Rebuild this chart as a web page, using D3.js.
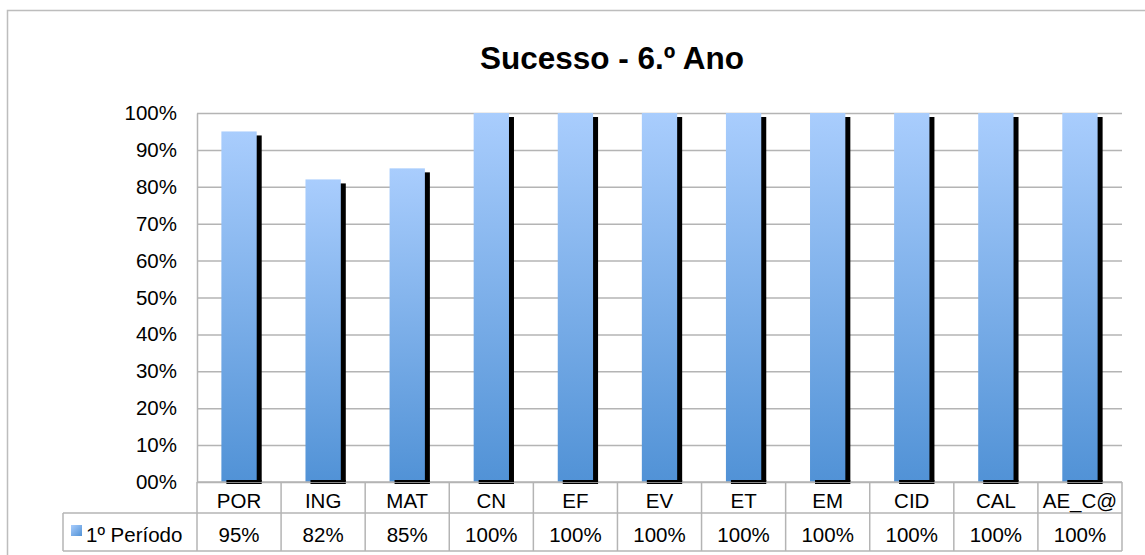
<!DOCTYPE html>
<html>
<head>
<meta charset="utf-8">
<script src="https://cdn.jsdelivr.net/npm/d3@7"></script>
<style>
  body { margin: 0; background: #fff; }
  svg { display: block; font-family: "Liberation Sans", Arial, sans-serif; }
</style>
</head>
<body>
<div id="chart"></div>
<script>
// chart data
const categories = ["POR", "ING", "MAT", "CN", "EF", "EV", "ET", "EM", "CID", "CAL", "AE_C@"];
const values = [95, 82, 85, 100, 100, 100, 100, 100, 100, 100, 100];
const valueLabels = ["95%", "82%", "85%", "100%", "100%", "100%", "100%", "100%", "100%", "100%", "100%"];
const yTicks = [0, 10, 20, 30, 40, 50, 60, 70, 80, 90, 100];
const yTickLabels = ["00%", "10%", "20%", "30%", "40%", "50%", "60%", "70%", "80%", "90%", "100%"];
const seriesName = "1º Período";
const chartTitle = "Sucesso - 6.º Ano";

const width = 1145, height = 555;
const plot = { left: 197, right: 1122, top: 113, bottom: 482 };
const rowH1 = 31, rowH2 = 38, legendLeft = 63;
const gridColor = "#b4b4b4";

const svg = d3.select("#chart").append("svg")
  .attr("width", width)
  .attr("height", height);

// gradient for the bars
const defs = svg.append("defs");
const grad = defs.append("linearGradient")
  .attr("id", "barGrad")
  .attr("x1", 0).attr("y1", 0).attr("x2", 0).attr("y2", 1);
grad.append("stop").attr("offset", "0%").attr("stop-color", "#a9cdfd");
grad.append("stop").attr("offset", "100%").attr("stop-color", "#5192d6");

const keyGrad = defs.append("linearGradient")
  .attr("id", "keyGrad")
  .attr("x1", 0).attr("y1", 0).attr("x2", 1).attr("y2", 1);
keyGrad.append("stop").attr("offset", "0%").attr("stop-color", "#a9cdfd");
keyGrad.append("stop").attr("offset", "100%").attr("stop-color", "#5192d6");

// outer chart border
svg.append("rect")
  .attr("x", 7.5).attr("y", 10.5)
  .attr("width", 1160).attr("height", 560)
  .attr("fill", "none")
  .attr("stroke", "#bdbdbd")
  .attr("stroke-width", 1.5);

// title
svg.append("text")
  .attr("x", 612).attr("y", 69)
  .attr("text-anchor", "middle")
  .attr("font-size", 31.5)
  .attr("font-weight", "bold")
  .text(chartTitle);

const x = d3.scaleBand()
  .domain(categories)
  .range([plot.left, plot.right]);

const y = d3.scaleLinear()
  .domain([0, 100])
  .range([plot.bottom, plot.top]);

// grid lines
svg.append("g")
  .attr("transform", `translate(${plot.left},0)`)
  .call(d3.axisLeft(y).tickValues(yTicks).tickSize(-(plot.right - plot.left)).tickFormat(""))
  .call(g => g.select(".domain").remove())
  .call(g => g.selectAll("line").attr("stroke", gridColor).attr("stroke-width", 1.5));

// y axis labels
svg.append("g")
  .attr("transform", `translate(${plot.left},0)`)
  .call(d3.axisLeft(y).tickValues(yTicks).tickSize(0).tickPadding(20)
    .tickFormat((d, i) => yTickLabels[i]))
  .call(g => g.select(".domain").attr("stroke", gridColor).attr("stroke-width", 1.5))
  .call(g => g.selectAll("text")
    .attr("font-size", 20.5)
    .attr("fill", "#000")
    .attr("font-family", "Liberation Sans, Arial, sans-serif"));

const barW = x.bandwidth() * 0.42;

// shadows
svg.append("g").selectAll("rect")
  .data(values)
  .join("rect")
  .attr("x", (d, i) => x(categories[i]) + (x.bandwidth() - barW) / 2 + 5)
  .attr("y", d => y(d) + 4)
  .attr("width", barW)
  .attr("height", d => y(0) - y(d) - 2)
  .attr("fill", "#000");

// bars
svg.append("g").selectAll("rect")
  .data(values)
  .join("rect")
  .attr("x", (d, i) => x(categories[i]) + (x.bandwidth() - barW) / 2)
  .attr("y", d => y(d))
  .attr("width", barW)
  .attr("height", d => y(0) - y(d))
  .attr("fill", "url(#barGrad)");

// data table
const table = svg.append("g")
  .attr("stroke", gridColor)
  .attr("stroke-width", 1.5)
  .attr("fill", "none");

const r1 = plot.bottom, r2 = plot.bottom + rowH1, r3 = plot.bottom + rowH1 + rowH2;
table.append("line").attr("x1", plot.left).attr("x2", plot.right).attr("y1", r1).attr("y2", r1);
table.append("line").attr("x1", legendLeft).attr("x2", plot.right).attr("y1", r2).attr("y2", r2);
table.append("line").attr("x1", legendLeft).attr("x2", plot.right).attr("y1", r3).attr("y2", r3);
table.append("line").attr("x1", legendLeft).attr("x2", legendLeft).attr("y1", r2).attr("y2", r3);
table.selectAll("line.col")
  .data(categories.concat(["end"]))
  .join("line")
  .attr("class", "col")
  .attr("x1", d => d === "end" ? plot.right : x(d))
  .attr("x2", d => d === "end" ? plot.right : x(d))
  .attr("y1", r1)
  .attr("y2", r3);

// redraw shadow bottoms over the table top line
svg.append("g").selectAll("rect")
  .data(values)
  .join("rect")
  .attr("x", (d, i) => x(categories[i]) + (x.bandwidth() - barW) / 2 + 5)
  .attr("y", y(0) - 2)
  .attr("width", barW)
  .attr("height", 2)
  .attr("fill", "#000");

// category labels row
svg.append("g").selectAll("text")
  .data(categories)
  .join("text")
  .attr("x", d => x(d) + x.bandwidth() / 2)
  .attr("y", r1 + 26)
  .attr("text-anchor", "middle")
  .attr("font-size", 20.5)
  .text(d => d);

// value row
svg.append("g").selectAll("text")
  .data(valueLabels)
  .join("text")
  .attr("x", (d, i) => x(categories[i]) + x.bandwidth() / 2)
  .attr("y", r2 + 29)
  .attr("text-anchor", "middle")
  .attr("font-size", 20.5)
  .text(d => d);

// legend key
svg.append("rect")
  .attr("x", 71).attr("y", 525)
  .attr("width", 11).attr("height", 11)
  .attr("fill", "url(#keyGrad)");
svg.append("text")
  .attr("x", 86).attr("y", r2 + 29)
  .attr("font-size", 20.5)
  .text(seriesName);
</script>
</body>
</html>
